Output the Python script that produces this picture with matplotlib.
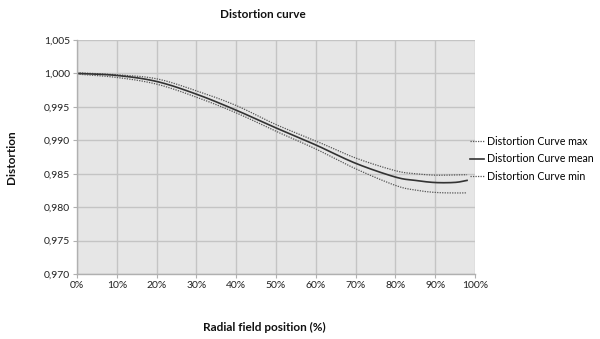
import matplotlib
matplotlib.use("Agg")
import matplotlib.pyplot as plt
import numpy as np
from matplotlib.ticker import FuncFormatter, MultipleLocator

# Data
positions = [0, 10, 20, 30, 40, 50, 60, 70, 80, 85, 90, 95, 98]
curve_max = [1.0001, 0.9998, 0.9992, 0.9974, 0.9952, 0.99235, 0.9899, 0.98735,
             0.98545, 0.9850, 0.98478, 0.98482, 0.98485]
curve_mean = [1.0000, 0.9997, 0.9988, 0.9969, 0.9945, 0.99185, 0.9893, 0.98656,
              0.9845, 0.9840, 0.98368, 0.9837, 0.9840]
curve_min = [0.9999, 0.9994, 0.9984, 0.99645, 0.9941, 0.99135, 0.9887, 0.98574,
             0.98325, 0.98255, 0.98220, 0.98212, 0.98214]
labels = ["Distortion Curve max", "Distortion Curve mean", "Distortion Curve min"]


def smooth(xs, ys, n=20):
    """Catmull-Rom rendering of a polyline (like a spreadsheet's smoothed line)."""
    x = np.asarray(xs, float)
    y = np.asarray(ys, float)
    px = np.concatenate([[2*x[0]-x[1]], x, [2*x[-1]-x[-2]]])
    py = np.concatenate([[2*y[0]-y[1]], y, [2*y[-1]-y[-2]]])
    ox, oy = [], []
    t = np.linspace(0, 1, n, endpoint=False)
    for i in range(1, len(px) - 2):
        for P, out in ((px, ox), (py, oy)):
            p0, p1, p2, p3 = P[i-1], P[i], P[i+1], P[i+2]
            out.extend(0.5*((2*p1) + (-p0+p2)*t + (2*p0-5*p1+4*p2-p3)*t**2
                            + (-p0+3*p1-3*p2+p3)*t**3))
    ox.append(x[-1]); oy.append(y[-1])
    return ox, oy


plt.rcParams['font.family'] = ['Lato', 'DejaVu Sans']

fig = plt.figure(figsize=(6.0, 3.39), dpi=100)
ax = fig.add_axes([77/600, 1-274/339, (475-77)/600, (274-40)/339])
ax.set_facecolor('#e6e6e6')

l1, = ax.plot(*smooth(positions, curve_max), color='#555555', lw=0.9, ls=(0, (1, 1)))
l2, = ax.plot(*smooth(positions, curve_mean), color='#333333', lw=1.2)
l3, = ax.plot(*smooth(positions, curve_min), color='#555555', lw=0.9, ls=(0, (1, 1)))

ax.set_xlim(0, 100)
ax.set_ylim(0.970, 1.005)
ax.xaxis.set_major_locator(MultipleLocator(10))
ax.yaxis.set_major_locator(MultipleLocator(0.005))
ax.xaxis.set_major_formatter(FuncFormatter(lambda v, p: f"{v:.0f}%"))
ax.yaxis.set_major_formatter(FuncFormatter(lambda v, p: f"{v:.3f}".replace('.', ',')))
ax.grid(True, color='#c4c4c4', lw=1.0)
ax.set_axisbelow(True)
for s in ['top', 'right']:
    ax.spines[s].set_visible(False)
for s in ['left', 'bottom']:
    ax.spines[s].set_color('#b0b0b0')
    ax.spines[s].set_linewidth(1.0)
ax.tick_params(axis='both', labelsize=7.5, colors='#222222', length=3, width=0.8,
               color='#b0b0b0', pad=2)

fig.text(263/600, 1-14/339, "Distortion curve", ha='center', va='center',
         fontsize=8.5, fontweight='bold', color='#111111')
fig.text(264/600, 1-327/339, "Radial field position (%)", ha='center', va='center',
         fontsize=8.5, fontweight='bold', color='#111111')
fig.text(12/600, 1-157/339, "Distortion", ha='center', va='center', rotation=90,
         fontsize=8.5, fontweight='bold', color='#111111')

leg = fig.legend([l1, l2, l3], labels, loc='center left',
                 bbox_to_anchor=(470/600, 1-159/339), frameon=False, fontsize=7.7,
                 handlelength=1.3, handletextpad=0.3, labelspacing=0.6,
                 borderaxespad=0, borderpad=0)

fig.savefig("out.png", dpi=100)
